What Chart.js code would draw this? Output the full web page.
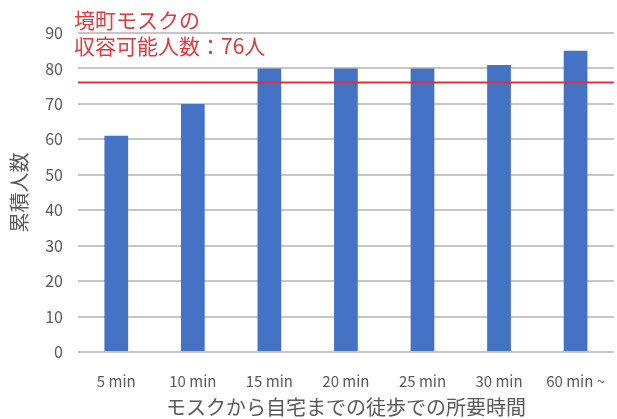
<!DOCTYPE html>
<html>
<head>
<meta charset="utf-8">
<script src="https://cdn.jsdelivr.net/npm/chart.js@4/dist/chart.umd.min.js"></script>
<style>
  html, body { margin: 0; padding: 0; background: #fff; }
  #wrap { width: 617px; height: 419px; position: relative; }
</style>
</head>
<body>
<div id="wrap"><canvas id="c"></canvas></div>
<script>
// walking time categories and cumulative counts
var categories = ['5 min', '10 min', '15 min', '20 min', '25 min', '30 min', '60 min ~'];
var cumulative = [61, 70, 80, 80, 80, 81, 85];
var capacity = 76;
var capacityLabel = ['境町モスクの', '収容可能人数：76人'];

var FONT = "'Noto Sans CJK JP', 'Noto Sans', sans-serif";

// horizontal capacity line + its note
var capacityLine = {
    id: 'capacityLine',
    afterDatasetsDraw: function(chart) {
        var ctx = chart.ctx;
        var area = chart.chartArea;
        var y = chart.scales.y.getPixelForValue(capacity);
        ctx.save();
        ctx.strokeStyle = '#d9323c';
        ctx.lineWidth = 2;
        ctx.beginPath();
        ctx.moveTo(area.left, y);
        ctx.lineTo(area.right, y);
        ctx.stroke();

        ctx.fillStyle = '#e0393e';
        ctx.font = '21px ' + FONT;
        ctx.textBaseline = 'middle';
        ctx.textAlign = 'left';
        ctx.fillText(capacityLabel[0], 74, 20);
        ctx.fillText(capacityLabel[1], 74, 46);
        ctx.restore();
    }
};

new Chart(document.getElementById('c').getContext('2d'), {
    type: 'bar',
    data: {
        labels: categories,
        datasets: [{
            data: cumulative,
            backgroundColor: '#4472c4',
            borderColor: '#4472c4',
            borderWidth: 0,
            categoryPercentage: 1,
            barPercentage: 0.31
        }]
    },
    options: {
        responsive: true,
        maintainAspectRatio: false,
        animation: false,
        layout: { padding: { top: 33, right: 0, bottom: 0, left: 0 } },
        plugins: {
            legend: { display: false },
            tooltip: { enabled: false }
        },
        scales: {
            x: {
                grid: { display: false },
                border: { display: false },
                ticks: { color: '#595959', font: { family: FONT, size: 15 }, padding: 12, maxRotation: 0 },
                title: {
                    display: true,
                    text: 'モスクから自宅までの徒歩での所要時間',
                    color: '#595959',
                    font: { family: FONT, size: 20 },
                    padding: { top: 0, bottom: 0 }
                },
                afterFit: function(s) { s.height = 67; }
            },
            y: {
                min: 0,
                max: 90,
                ticks: { stepSize: 10, color: '#595959', font: { family: FONT, size: 16 }, padding: 15 },
                grid: { color: '#c6c6c6', lineWidth: 2, drawTicks: false },
                border: { display: false },
                title: {
                    display: true,
                    text: '累積人数',
                    color: '#595959',
                    font: { family: FONT, size: 20 },
                    padding: { top: 7, bottom: 0 }
                },
                afterFit: function(s) { s.width = 78; }
            }
        }
    },
    plugins: [capacityLine]
});
</script>
</body>
</html>
